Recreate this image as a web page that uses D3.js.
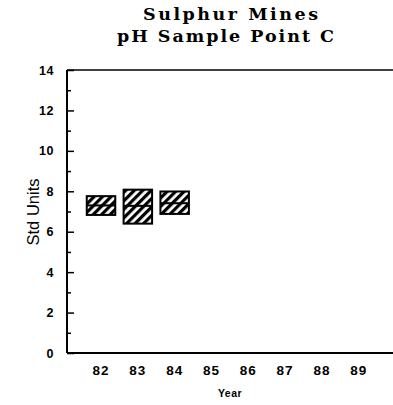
<!DOCTYPE html>
<html>
<head>
<meta charset="utf-8">
<script src="https://cdn.jsdelivr.net/npm/d3@7"></script>
<style>
  html, body { margin: 0; padding: 0; background: #fff; }
  svg { display: block; }
</style>
</head>
<body>
<svg id="chart" width="393" height="405"></svg>
<script>
// ---- data ----
const titleLines = ["Sulphur Mines", "pH Sample Point C"];
const years = [82, 83, 84, 85, 86, 87, 88, 89];
const boxYears = [82, 83, 84];
const boxLow = [6.83, 6.40, 6.88];
const boxHigh = [7.76, 8.08, 7.99];
const boxMid = [7.30, 7.28, 7.41];
const yMajorTicks = [0, 2, 4, 6, 8, 10, 12, 14];
const yMinorTicks = [1, 3, 5, 7, 9, 11, 13];

const svg = d3.select("#chart");

const plot = { left: 67, right: 393, top: 70, bottom: 353 };
const x = d3.scaleLinear().domain([81.076, 89.93]).range([plot.left, plot.right]);
const y = d3.scaleLinear().domain([0, 14]).range([plot.bottom, plot.top]);

// hatch pattern
const defs = svg.append("defs");
const pat = defs.append("pattern")
  .attr("id", "hatch")
  .attr("patternUnits", "userSpaceOnUse")
  .attr("width", 6).attr("height", 6)
  .attr("patternTransform", "rotate(45)");
pat.append("rect").attr("width", 6).attr("height", 6).attr("fill", "#fff");
pat.append("line").attr("x1", 1.6).attr("y1", 0).attr("x2", 1.6).attr("y2", 6)
  .attr("stroke", "#000").attr("stroke-width", 3.2);

// title
const titleCenters = [230.5, 225.5];
const titleWidths = [175, 217];
svg.selectAll("text.title").data(titleLines).enter().append("text")
  .attr("class", "title")
  .attr("x", (d, i) => titleCenters[i]).attr("y", (d, i) => 20 + i * 22)
  .attr("text-anchor", "middle")
  .attr("font-family", "'DejaVu Serif', serif")
  .attr("font-weight", "bold")
  .attr("font-size", 17.5)
  .attr("textLength", (d, i) => titleWidths[i])
  .attr("lengthAdjust", "spacing")
  .text(d => d);

// frame lines
svg.append("line").attr("x1", plot.left).attr("x2", plot.right)
  .attr("y1", plot.top).attr("y2", plot.top).attr("stroke", "#000").attr("stroke-width", 1.5);
svg.append("line").attr("x1", plot.left).attr("x2", plot.right)
  .attr("y1", plot.bottom).attr("y2", plot.bottom).attr("stroke", "#000").attr("stroke-width", 2);
svg.append("line").attr("x1", plot.left).attr("x2", plot.left)
  .attr("y1", plot.top).attr("y2", plot.bottom).attr("stroke", "#000").attr("stroke-width", 2);

// y ticks
const yAxisMajor = d3.axisRight(y).tickValues(yMajorTicks).tickSize(7).tickFormat("");
const gMaj = svg.append("g").attr("transform", `translate(${plot.left},0)`).call(yAxisMajor);
gMaj.select(".domain").remove();
gMaj.selectAll("line").attr("stroke", "#000").attr("stroke-width", 1.5);
const yAxisMinor = d3.axisRight(y).tickValues(yMinorTicks).tickSize(4).tickFormat("");
const gMin = svg.append("g").attr("transform", `translate(${plot.left},0)`).call(yAxisMinor);
gMin.select(".domain").remove();
gMin.selectAll("line").attr("stroke", "#000").attr("stroke-width", 1.5);

// y tick labels
svg.selectAll("text.ylab").data(yMajorTicks).enter().append("text")
  .attr("class", "ylab")
  .attr("x", 54).attr("y", d => y(d) + 4.5)
  .attr("text-anchor", "end")
  .attr("font-family", "'Liberation Sans', Arial, sans-serif")
  .attr("font-weight", "bold")
  .attr("font-size", 12.5)
  .attr("letter-spacing", 0.5)
  .text(d => d);

// x tick labels
svg.selectAll("text.xlab").data(years).enter().append("text")
  .attr("class", "xlab")
  .attr("x", d => x(d)).attr("y", 375)
  .attr("text-anchor", "middle")
  .attr("font-family", "'Liberation Sans', Arial, sans-serif")
  .attr("font-weight", "bold")
  .attr("font-size", 13.5)
  .attr("letter-spacing", 1)
  .text(d => d);

// axis titles
svg.append("text")
  .attr("x", 230).attr("y", 397)
  .attr("text-anchor", "middle")
  .attr("font-family", "'Liberation Sans', Arial, sans-serif")
  .attr("font-weight", "bold")
  .attr("font-size", 10.5)
  .attr("letter-spacing", 0.5)
  .text("Year");
svg.append("text")
  .attr("transform", "translate(39,212) rotate(-90)")
  .attr("text-anchor", "middle")
  .attr("font-family", "'Liberation Sans', Arial, sans-serif")
  .attr("font-size", 16.5)
  .text("Std Units");

// boxes
const boxW = 28.5;
const boxes = boxYears.map((yr, i) => ({ yr, lo: boxLow[i], hi: boxHigh[i], mid: boxMid[i] }));
const gb = svg.append("g");
gb.selectAll("rect.box").data(boxes).enter().append("rect")
  .attr("class", "box")
  .attr("x", d => x(d.yr) - boxW / 2)
  .attr("width", boxW)
  .attr("y", d => y(d.hi))
  .attr("height", d => y(d.lo) - y(d.hi))
  .attr("fill", "url(#hatch)")
  .attr("stroke", "#000").attr("stroke-width", 2);
gb.selectAll("line.mid").data(boxes).enter().append("line")
  .attr("class", "mid")
  .attr("x1", d => x(d.yr) - boxW / 2)
  .attr("x2", d => x(d.yr) + boxW / 2)
  .attr("y1", d => y(d.mid)).attr("y2", d => y(d.mid))
  .attr("stroke", "#000").attr("stroke-width", 2);
</script>
</body>
</html>
